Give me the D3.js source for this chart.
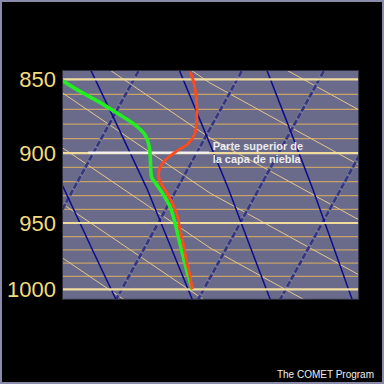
<!DOCTYPE html>
<html><head><meta charset="utf-8">
<script src="https://cdn.jsdelivr.net/npm/d3@7"></script>
<style>html,body{margin:0;padding:0;background:#000;}svg{display:block;}</style>
</head><body>
<svg id="chart" width="384" height="384"></svg>
<script>
// ---------- DATA ----------
const pressureLabels = [850, 900, 950, 1000];
const isobarLevels = [850, 860, 870, 880, 890, 900, 910, 920, 930, 940, 950, 960, 970, 980, 990, 1000];
const isothermTemps = [-6.3, 0, 5, 10];
const adiabatPressures = [840, 880, 925, 970, 1010];
const adiabatTemps = [
  [-14.98, -11.1, -6.9, -3.1, 0.16],
  [-9.62, -5.85, -1.84, 1.75, 4.8],
  [-4.2, -0.66, 3.12, 6.59, 9.55],
  [1.15, 4.59, 8.26, 11.66, 14.54]
];
// thin tan lines: [pressure, temperature] triples
const tanLines = [
  [[747.2, -17.61], [816.9, -3.38], [878.2, 10.12]],
  [[779.6, -15.77], [852.4, -1.54], [916.4, 11.97]],
  [[813.5, -13.92], [889.5, 0.31], [956.2, 13.81]],
  [[848.9, -12.08], [928.2, 2.15], [997.8, 15.66]],
  [[885.8, -10.23], [968.5, 4.0], [1041.2, 17.5]],
  [[925.1, -8.35], [1011.4, 5.88], [1087.4, 19.38]],
  [[964.6, -6.54], [1054.6, 7.69], [1133.8, 21.19]]
];
const tempPressure = [845, 850, 860, 870, 880, 886, 890, 894, 897, 900, 905, 910, 915, 920, 928, 935, 945, 955, 965, 980, 990, 1000];
const tempValues   = [-3.13, -2.70, -2.01, -1.45, -0.98, -0.77, -0.76, -0.87, -1.15, -1.38, -1.68, -1.75, -1.60, -1.28, -0.48, 0.15, 0.95, 1.56, 2.20, 3.10, 3.73, 4.3];
const dewPressure = [848, 851, 858, 865, 873, 880, 887, 895, 902, 910, 917, 922, 929, 938, 950, 967, 985, 1000];
const dewValues   = [-11.21, -10.60, -9.18, -7.67, -6.11, -4.79, -3.80, -3.14, -2.73, -2.32, -1.93, -1.40, -0.67, 0.17, 1.03, 2.13, 3.30, 4.3];
const fogTopPressure = 900;
const fogTopTemps = [-6.6, 0.77];
const fogLabelTemp = 0.98;
const fogLabelLines = ["Parte superior de", "la capa de niebla"];
const creditText = "The COMET Program";

// ---------- LAYOUT ----------
const plot = {x0: 62.5, x1: 358.7, y0: 70.5, y1: 299.3};
const svg = d3.select("#chart");
const y = d3.scaleLog().domain([1000, 850]).range([289.3, 79.3]);
const x = d3.scaleLinear().domain([0, 5]).range([121.7, 203.7]);
const skew = 0.55;
const px = (T, p) => x(T) + skew * (y(1000) - y(p));

svg.append("rect").attr("width", 384).attr("height", 384).attr("fill", "#000");
svg.append("rect").attr("x", 1).attr("y", 1).attr("width", 382).attr("height", 382)
  .attr("fill", "none").attr("stroke", "#8a8aaa").attr("stroke-width", 2);

svg.append("defs").append("clipPath").attr("id", "clip")
  .append("rect").attr("x", plot.x0).attr("y", plot.y0)
  .attr("width", plot.x1 - plot.x0).attr("height", plot.y1 - plot.y0);

svg.append("rect").attr("x", plot.x0).attr("y", plot.y0)
  .attr("width", plot.x1 - plot.x0).attr("height", plot.y1 - plot.y0)
  .attr("fill", "#6a6a8b");

const g = svg.append("g").attr("clip-path", "url(#clip)");
const ptLine = d3.line().x(d => px(d[1], d[0])).y(d => y(d[0]));

// minor isobars
g.selectAll(".minor").data(isobarLevels.filter(p => !pressureLabels.includes(p))).join("line")
  .attr("x1", plot.x0).attr("x2", plot.x1)
  .attr("y1", d => y(d)).attr("y2", d => y(d))
  .attr("stroke", "#c6a266").attr("stroke-width", 1.3);

// tan diagonal lines
g.selectAll(".tan").data(tanLines).join("path")
  .attr("d", d => ptLine(d)).attr("fill", "none")
  .attr("stroke", "#e4c88e").attr("stroke-width", 1);

// isotherms (dashed)
const isoData = isothermTemps.map(T => [[800, T], [1030, T]]);
g.selectAll(".isoU").data(isoData).join("path")
  .attr("d", d => ptLine(d)).attr("fill", "none")
  .attr("stroke", "#7e80a2").attr("stroke-width", 4).attr("opacity", 0.6);
g.selectAll(".isoD").data(isoData).join("path")
  .attr("d", d => ptLine(d)).attr("fill", "none")
  .attr("stroke", "#36367e").attr("stroke-width", 2.6).attr("stroke-dasharray", "6,2");

// dry adiabats (solid blue)
g.selectAll(".adi").data(adiabatTemps).join("path")
  .attr("d", d => ptLine(d.map((T, i) => [adiabatPressures[i], T])))
  .attr("fill", "none").attr("stroke", "#0c0c8c").attr("stroke-width", 1.5);

// major isobars
g.selectAll(".major").data(pressureLabels).join("line")
  .attr("x1", plot.x0).attr("x2", plot.x1)
  .attr("y1", d => y(d)).attr("y2", d => y(d))
  .attr("stroke", "#f0dc9c").attr("stroke-width", 2.2);

// fog top marker
g.append("line")
  .attr("x1", px(fogTopTemps[0], fogTopPressure)).attr("x2", px(fogTopTemps[1], fogTopPressure))
  .attr("y1", y(fogTopPressure) - 0.5).attr("y2", y(fogTopPressure) - 0.5)
  .attr("stroke", "#f2f2f2").attr("stroke-width", 2.2);

// curves
const curveLine = d3.line().x(d => px(d[1], d[0])).y(d => y(d[0])).curve(d3.curveCatmullRom.alpha(0.5));
g.append("path").attr("d", curveLine(dewPressure.map((p, i) => [p, dewValues[i]])))
  .attr("fill", "none").attr("stroke", "#22ee22").attr("stroke-width", 3.6);
g.append("path").attr("d", curveLine(tempPressure.map((p, i) => [p, tempValues[i]])))
  .attr("fill", "none").attr("stroke", "#ff4a1e").attr("stroke-width", 2.8);

// label
const lab = svg.append("text").attr("x", px(fogLabelTemp, fogTopPressure)).attr("y", y(fogTopPressure))
  .attr("font-family", "Liberation Sans, Arial, sans-serif").attr("font-weight", "bold")
  .attr("font-size", 11).attr("fill", "#ececec");
lab.selectAll("tspan").data(fogLabelLines).join("tspan")
  .attr("x", px(fogLabelTemp, fogTopPressure)).attr("dy", (d, i) => i === 0 ? -3 : 13.3).text(d => d);

// frame
svg.append("rect").attr("x", plot.x0).attr("y", plot.y0)
  .attr("width", plot.x1 - plot.x0).attr("height", plot.y1 - plot.y0)
  .attr("fill", "none").attr("stroke", "#30303c").attr("stroke-width", 1);

// pressure labels
svg.selectAll(".plab").data(pressureLabels).join("text")
  .attr("x", 56).attr("y", d => y(d) + 8)
  .attr("text-anchor", "end").attr("font-family", "Liberation Sans, Arial, sans-serif")
  .attr("font-size", 22).attr("fill", "#f2dc7e").text(d => d);

svg.append("text").attr("x", 374).attr("y", 377.5).attr("text-anchor", "end")
  .attr("font-family", "Liberation Sans, Arial, sans-serif").attr("font-size", 10)
  .attr("fill", "#eeeeee").text(creditText);
</script>
</body></html>
